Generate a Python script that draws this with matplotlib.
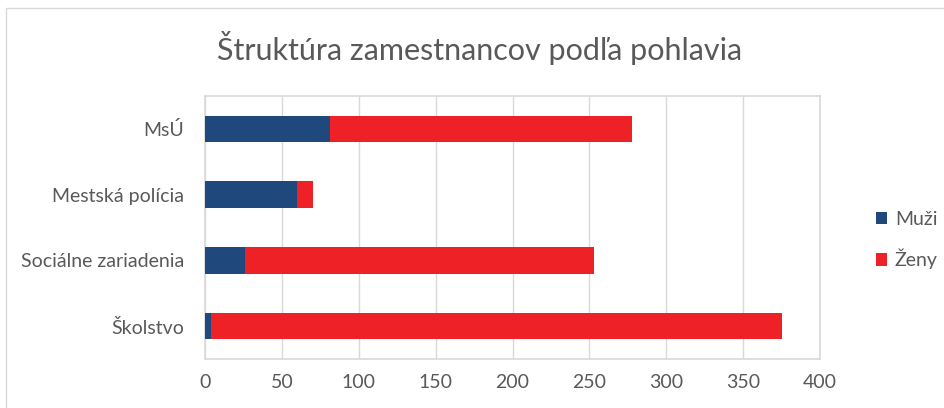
import matplotlib.pyplot as plt
from matplotlib.patches import Rectangle

# data
categories = ["MsÚ", "Mestská polícia", "Sociálne zariadenia", "Školstvo"]
muzi = [81, 60, 26, 4]
zeny = [197, 10, 227, 371]
xticks = [0, 50, 100, 150, 200, 250, 300, 350, 400]

text_color = "#595959"
grid_color = "#d9d9d9"
plt.rcParams['font.family'] = ['Lato', 'DejaVu Sans']

fig = plt.figure(figsize=(9.44, 4.08), dpi=100)
ax = fig.add_axes([205 / 944, 1 - 359 / 408, 615 / 944, 263 / 408])

# chart area border
fig.patches.append(Rectangle((0.006, -0.1), 1.2, 1.08, transform=fig.transFigure,
                             fill=False, edgecolor=grid_color, linewidth=1))

ypos = list(range(len(categories)))
ax.barh(ypos, muzi, height=0.4, color="#1f497d", label="Muži", zorder=3)
ax.barh(ypos, zeny, left=muzi, height=0.4, color="#ee2127", label="Ženy", zorder=3)

ax.set_yticks(ypos)
ax.set_yticklabels(categories)
ax.set_ylim(len(categories) - 0.5, -0.5)
ax.set_xlim(0, 400)
ax.set_xticks(xticks)
ax.tick_params(axis='both', length=0, labelsize=14, colors=text_color)
ax.tick_params(axis='x', pad=11)
ax.tick_params(axis='y', pad=15)
ax.grid(axis='x', color=grid_color, linewidth=1, zorder=0)
for side in ax.spines.values():
    side.set_color(grid_color)
    side.set_linewidth(1.2)

fig.text(480 / 944, 1 - 48 / 408, "Štruktúra zamestnancov podľa pohlavia",
         ha='center', va='center', fontsize=22, color=text_color)

ax.legend(loc='center left', bbox_to_anchor=(858 / 944, 1 - 240 / 408),
          bbox_transform=fig.transFigure, frameon=False, fontsize=14,
          labelcolor=text_color, handlelength=0.6, handleheight=0.6,
          handletextpad=0.4, labelspacing=1.1)

fig.savefig("out.png", dpi=100)
